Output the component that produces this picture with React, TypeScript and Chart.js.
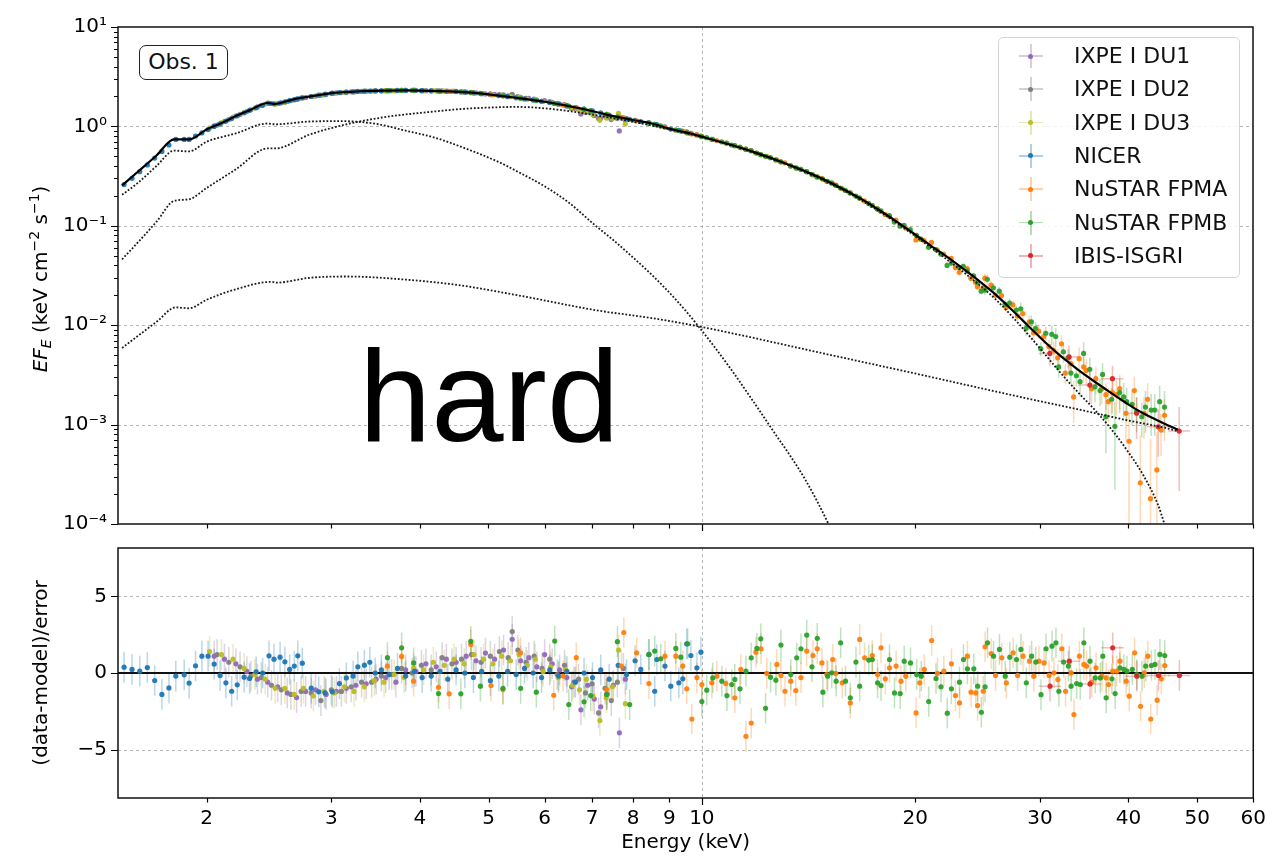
import React, { useEffect, useRef } from "react";
import { Chart, registerables } from "chart.js";

Chart.register(...registerables);

const FONT = '"DejaVu Sans", "Noto Sans", sans-serif';
Chart.defaults.font.family = FONT;

// ---------------- axes ----------------
const X_MIN = 1.5;
const X_MAX = 60;
const X_TICKS = [2, 3, 4, 5, 6, 7, 8, 9, 10, 20, 30, 40, 50, 60];
const X_TICK_LABELS = ["2", "3", "4", "5", "6", "7", "8", "9", "10", "20", "30", "40", "50", "60"];
const X_MAJOR = [10];
const X_GRID = [10];

const Y_MIN_TOP = 1e-4;
const Y_MAX_TOP = 10;
const Y_TICKS_TOP = [1e-4, 1e-3, 1e-2, 1e-1, 1, 10];
const Y_TICK_LABELS_TOP = ["10⁻⁴", "10⁻³", "10⁻²", "10⁻¹", "10⁰", "10¹"];
const Y_GRID_TOP = [1e-3, 1e-2, 1e-1, 1];

const Y_MIN_RES = -8.15;
const Y_MAX_RES = 8.15;
const Y_TICKS_RES = [-5, 0, 5];
const Y_TICK_LABELS_RES = ["−5", "0", "5"];
const Y_GRID_RES = [-5, 5];

// ---------------- model curves ----------------
const MODEL_E = [1.52, 1.6, 1.7, 1.8, 1.89, 2.0, 2.1, 2.2, 2.3, 2.44, 2.5, 2.6, 2.71, 2.85, 3.02, 3.2, 3.37, 3.6, 3.8, 4.0, 4.2, 4.4, 4.67, 5.0, 5.5, 6.0, 6.5, 7.0, 7.5, 8.0, 8.5, 9.0, 9.5, 10, 11, 12, 13, 14, 15, 16, 17, 18, 19, 20, 21, 22, 23, 24, 25, 26, 27, 28, 29, 30, 31, 32, 33, 34, 35, 36, 37, 38, 39, 40, 41, 42, 43, 44, 45, 46, 47];
const MODEL_TOTAL = [0.255, 0.35, 0.51, 0.74, 0.74, 0.93, 1.08, 1.27, 1.45, 1.72, 1.68, 1.8, 1.93, 2.04, 2.17, 2.23, 2.27, 2.29, 2.3, 2.29, 2.27, 2.25, 2.2, 2.1, 1.93, 1.77, 1.6, 1.43, 1.27, 1.16, 1.07, 0.95, 0.87, 0.79, 0.653, 0.535, 0.436, 0.353, 0.284, 0.225, 0.177, 0.137, 0.106, 0.082, 0.064, 0.051, 0.0405, 0.0322, 0.0256, 0.0203, 0.0158, 0.0123, 0.0096, 0.0076, 0.0061, 0.005, 0.0042, 0.00355, 0.00305, 0.00265, 0.00232, 0.00204, 0.0018, 0.0016, 0.00143, 0.0013, 0.00119, 0.0011, 0.00102, 0.00095, 0.00089];

const DISK_E = [1.52, 1.6, 1.7, 1.8, 1.89, 2.0, 2.2, 2.44, 2.5, 2.8, 3.1, 3.5, 3.76, 4.2, 4.67, 5.2, 5.5, 6.0, 6.5, 7.04, 7.5, 7.9, 8.47, 9.2, 9.9, 11, 12.5, 14, 15.1, 16];
const DISK = [0.205, 0.27, 0.4, 0.57, 0.56, 0.7, 0.85, 1.07, 1.05, 1.12, 1.13, 1.05, 0.93, 0.77, 0.59, 0.43, 0.35, 0.25, 0.17, 0.104, 0.072, 0.052, 0.033, 0.018, 0.0097, 0.0036, 0.00095, 0.00028, 0.0001, 0.00004];

const COMPTT_E = [1.52, 1.6, 1.7, 1.8, 1.89, 2.0, 2.2, 2.44, 2.5, 2.8, 3.19, 3.6, 4.18, 4.6, 5.2, 5.5, 6.0, 6.47, 7.2, 8.5, 10, 12, 14, 16, 18, 20, 22, 24, 26, 28, 30, 32, 34, 36, 38, 40, 42, 44, 45, 46];
const COMPTT = [0.046, 0.068, 0.11, 0.178, 0.185, 0.24, 0.37, 0.6, 0.6, 0.83, 1.07, 1.25, 1.41, 1.5, 1.56, 1.57, 1.52, 1.43, 1.27, 1.02, 0.78, 0.527, 0.347, 0.219, 0.133, 0.079, 0.048, 0.0297, 0.0182, 0.0104, 0.0059, 0.0034, 0.0021, 0.00137, 0.00087, 0.00053, 0.00031, 0.00016, 0.0001, 0.00006];

const POWERLAW_E = [1.52, 1.6, 1.7, 1.81, 1.89, 2.0, 2.2, 2.47, 2.51, 2.8, 3.16, 3.76, 4.52, 5.5, 7.11, 8.5, 10, 15, 20, 25, 30, 35, 40, 45, 47];
const POWERLAW = [0.0059, 0.0078, 0.0108, 0.0151, 0.0148, 0.018, 0.023, 0.0273, 0.0268, 0.03, 0.0309, 0.029, 0.0254, 0.02, 0.0141, 0.0118, 0.0096, 0.00512, 0.00327, 0.00229, 0.00172, 0.00136, 0.0011, 0.00093, 0.00086];

// ---------------- data: IXPE DU1 ----------------
const DU1_E = [2.05, 2.12, 2.2, 2.28, 2.36, 2.44, 2.52, 2.6, 2.68, 2.76, 2.85, 2.95, 3.05, 3.15, 3.25, 3.36, 3.47, 3.58, 3.7, 3.82, 3.95, 4.08, 4.22, 4.36, 4.5, 4.65, 4.8, 4.95, 5.1, 5.25, 5.4, 5.55, 5.7, 5.85, 6.0, 6.15, 6.3, 6.45, 6.6, 6.75, 6.9, 7.05, 7.2, 7.35, 7.5, 7.65, 7.8];
const DU1_F = [1.01, 1.12, 1.27, 1.41, 1.57, 1.72, 1.7, 1.78, 1.88, 1.95, 2.02, 2.09, 2.17, 2.21, 2.24, 2.26, 2.28, 2.29, 2.29, 2.3, 2.3, 2.29, 2.28, 2.26, 2.25, 2.21, 2.17, 2.12, 2.1, 2.08, 2.07, 1.96, 1.91, 1.84, 1.82, 1.75, 1.68, 1.6, 1.51, 1.33, 1.4, 1.29, 1.21, 1.22, 1.22, 0.9, 1.16];
const DU1_R = [1.1, 0.9, 0.6, 0.1, -0.4, -0.6, -0.9, -1.3, -1.6, -1.2, -1.1, -1.4, -1.2, -1.0, -0.8, -0.7, -0.4, -0.3, -0.6, 0.2, 0.1, 0.6, 0.4, 0.9, 0.7, 1.1, 0.8, 1.3, 0.9, 1.5, 2.2, 0.8, 1.0, 0.4, 1.2, 0.6, 0.2, -0.3, -0.6, -2.4, -0.8, -1.7, -2.2, -1.4, -0.8, -3.9, -0.4];

// ---------------- data: IXPE DU2 ----------------
const DU2_E = [2.07, 2.15, 2.23, 2.31, 2.39, 2.47, 2.55, 2.63, 2.72, 2.81, 2.9, 3.0, 3.1, 3.2, 3.31, 3.42, 3.53, 3.65, 3.77, 3.9, 4.02, 4.15, 4.3, 4.44, 4.58, 4.73, 4.88, 5.03, 5.18, 5.33, 5.4, 5.5, 5.65, 5.8, 5.95, 6.1, 6.25, 6.4, 6.55, 6.7, 6.85, 7.0, 7.15, 7.3, 7.45, 7.6, 7.75];
const DU2_F = [1.03, 1.17, 1.32, 1.47, 1.63, 1.7, 1.73, 1.82, 1.93, 2.0, 2.06, 2.15, 2.19, 2.23, 2.25, 2.27, 2.28, 2.29, 2.3, 2.3, 2.29, 2.28, 2.28, 2.25, 2.23, 2.2, 2.14, 2.12, 2.09, 2.03, 2.1, 2.0, 1.92, 1.88, 1.79, 1.78, 1.71, 1.66, 1.51, 1.49, 1.39, 1.38, 1.2, 1.27, 1.17, 1.2, 1.21];
const DU2_R = [1.2, 0.7, 0.4, -0.2, -0.3, -0.8, -1.1, -1.4, -1.2, -1.3, -1.8, -1.1, -1.2, -0.9, -0.6, -0.6, -0.2, -0.1, 0.3, 0.0, 0.5, 0.2, 1.0, 0.6, 0.9, 1.2, 0.7, 1.1, 1.4, 1.0, 2.7, 1.5, 0.7, 1.1, 0.3, 0.9, -0.1, 0.5, -0.9, -0.4, -1.3, -0.7, -2.6, -1.0, -1.8, -0.6, 0.3];

// ---------------- data: IXPE DU3 ----------------
const DU3_E = [2.02, 2.1, 2.18, 2.26, 2.34, 2.42, 2.5, 2.58, 2.66, 2.74, 2.83, 2.93, 3.03, 3.13, 3.23, 3.34, 3.45, 3.56, 3.68, 3.8, 3.92, 4.05, 4.18, 4.33, 4.47, 4.62, 4.77, 4.92, 5.07, 5.22, 5.37, 5.52, 5.67, 5.82, 5.97, 6.12, 6.27, 6.42, 6.57, 6.72, 6.87, 7.02, 7.18, 7.33, 7.48, 7.63, 7.8];
const DU3_F = [0.96, 1.09, 1.24, 1.38, 1.53, 1.68, 1.67, 1.74, 1.84, 1.94, 2.0, 2.08, 2.15, 2.2, 2.22, 2.25, 2.27, 2.28, 2.29, 2.3, 2.3, 2.29, 2.29, 2.26, 2.26, 2.22, 2.19, 2.14, 2.07, 2.06, 1.99, 1.97, 1.88, 1.86, 1.78, 1.74, 1.67, 1.63, 1.52, 1.44, 1.44, 1.32, 1.15, 1.22, 1.21, 1.35, 1.06];
const DU3_R = [1.4, 1.2, 0.9, 0.3, -0.1, -0.4, -1.0, -1.0, -1.4, -1.0, -1.5, -1.2, -1.3, -0.9, -1.2, -0.9, -0.5, -0.6, -0.1, -0.3, 0.3, 0.2, 0.7, 0.5, 0.9, 0.6, 1.2, 0.9, 0.6, 1.1, 0.8, 1.2, 0.5, 0.9, 0.1, 0.4, -0.3, 0.2, -0.8, -1.1, -0.4, -1.5, -3.1, -1.6, -0.9, 1.5, -2.0];

// ---------------- data: NICER ----------------
const NICER_E = [1.53, 1.57, 1.61, 1.65, 1.69, 1.73, 1.77, 1.81, 1.86, 1.89, 1.93, 1.97, 2.01, 2.05, 2.09, 2.13, 2.17, 2.21, 2.26, 2.3, 2.35, 2.4, 2.45, 2.49, 2.54, 2.58, 2.62, 2.66, 2.69, 2.73, 2.81, 2.88, 2.94, 3.01, 3.08, 3.15, 3.22, 3.27, 3.34, 3.4, 3.46, 3.53, 3.62, 3.72, 3.82, 3.93, 4.03, 4.15, 4.27, 4.38, 4.5, 4.63, 4.76, 4.89, 5.03, 5.17, 5.32, 5.47, 5.62, 5.78, 5.94, 6.1, 6.28, 6.45, 6.63, 6.82, 7.01, 7.2, 7.4, 7.62, 7.83, 8.05, 8.2, 8.42, 8.58, 8.64, 8.87, 9.04, 9.28, 9.4, 9.52, 9.65, 9.84, 9.97];
const NICER_F = [0.26, 0.3, 0.35, 0.41, 0.48, 0.56, 0.65, 0.74, 0.74, 0.74, 0.8, 0.86, 0.93, 1.0, 1.06, 1.13, 1.2, 1.28, 1.37, 1.45, 1.54, 1.63, 1.71, 1.69, 1.72, 1.77, 1.82, 1.86, 1.89, 1.94, 2.0, 2.06, 2.11, 2.16, 2.19, 2.21, 2.23, 2.25, 2.26, 2.27, 2.28, 2.28, 2.29, 2.3, 2.3, 2.3, 2.29, 2.28, 2.26, 2.25, 2.24, 2.21, 2.17, 2.13, 2.09, 2.04, 1.99, 1.94, 1.89, 1.84, 1.79, 1.74, 1.68, 1.62, 1.55, 1.49, 1.43, 1.37, 1.3, 1.24, 1.2, 1.15, 1.12, 1.09, 1.05, 1.04, 0.99, 0.94, 0.91, 0.89, 0.88, 0.85, 0.82, 0.8];
const NICER_R = [0.38, 0.23, 0.12, 0.36, -0.49, -1.4, -0.97, -0.2, -0.12, -0.66, 0.47, 1.1, 1.1, 0.58, -0.16, -0.64, -1.19, -0.77, -0.27, -0.36, 0.08, 0, 1.12, 0.9, 1.03, 0.73, 0.23, 0.45, 1.12, 0.64, -0.99, -1.23, -1.3, -1.23, -0.69, -0.32, -0.2, 0.4, 0.51, 0.7, 0, 0.2, -0.1, 0.3, -0.2, 0.1, -0.3, -0.2, 0.1, -0.4, 0.2, 0, -0.3, 0.1, -0.5, -0.2, 0.1, -0.1, 0.3, 0, -0.3, 0.2, -0.2, 0.1, -0.6, 0, -0.3, 0.2, -0.4, 0.5, -0.1, 0.8, 0.23, 1.2, -1.19, 0.88, 0.45, -0.86, -0.64, -0.38, 1.9, 1.14, 0.34, 1.36];

// ---------------- data: NuSTAR FPMA ----------------
const FPMA_E = [3.6, 3.77, 3.92, 4.25, 4.4, 4.72, 5.04, 5.24, 5.55, 6.18, 6.37, 6.65, 7.34, 7.7, 7.76, 8.09, 8.42, 8.87, 9.19, 9.4, 9.52, 9.68, 9.84, 10.0, 10.33, 10.5, 10.81, 11.13, 11.35, 11.54, 11.74, 11.92, 12.12, 12.35, 12.76, 12.93, 13.1, 13.35, 13.57, 13.8, 14.06, 14.35, 14.55, 14.77, 15.01, 15.3, 15.45, 15.78, 16.2, 16.7, 16.97, 17.4, 17.7, 17.9, 18.15, 18.4, 18.8, 19.1, 19.4, 20.06, 20.3, 20.6, 21.1, 21.5, 21.95, 22.5, 22.8, 23.1, 23.7, 23.98, 24.35, 24.5, 24.95, 25.1, 25.6, 25.97, 26.5, 26.9, 27.5, 27.9, 28.4, 29.0, 29.4, 29.9, 30.4, 30.9, 31.4, 31.8, 32.2, 32.6, 33.2, 33.5, 34.1, 34.6, 34.9, 35.5, 36.0, 36.7, 37.2, 37.5, 38.0, 38.5, 38.9, 39.7, 40.1, 40.8, 41.6, 42.1, 42.6, 43.0, 43.9, 44.5, 45.0];
const FPMA_F = [2.29, 2.3, 2.3, 2.27, 2.25, 2.19, 2.09, 2.03, 1.92, 1.71, 1.64, 1.55, 1.32, 1.23, 1.22, 1.14, 1.08, 0.98, 0.92, 0.89, 0.87, 0.84, 0.82, 0.79, 0.74, 0.72, 0.68, 0.64, 0.61, 0.59, 0.57, 0.54, 0.52, 0.5, 0.46, 0.44, 0.43, 0.4, 0.385, 0.37, 0.35, 0.325, 0.31, 0.3, 0.28, 0.266, 0.257, 0.237, 0.214, 0.19, 0.178, 0.16, 0.148, 0.14, 0.13, 0.125, 0.114, 0.101, 0.095, 0.072, 0.074, 0.071, 0.068, 0.057, 0.052, 0.047, 0.038, 0.034, 0.037, 0.0296, 0.027, 0.0244, 0.0237, 0.0297, 0.0253, 0.02, 0.0199, 0.0151, 0.016, 0.0124, 0.0131, 0.0108, 0.0084, 0.0087, 0.0077, 0.0061, 0.0056, 0.0047, 0.0065, 0.0033, 0.0041, 0.0019, 0.0046, 0.0038, 0.0035, 0.0023, 0.0029, 0.0023, 0.002, 0.0017, 0.0021, 0.002, 0.0023, 0.0013, 0.00068, 0.0022, 0.00026, 0.0013, 0.0018, 0.00018, 0.00035, 0.00088, 0.00124];
const FPMA_S = [0.01, 0.01, 0.01, 0.01, 0.01, 0.01, 0.01, 0.01, 0.01, 0.01, 0.01, 0.01, 0.01, 0.01, 0.01, 0.01, 0.01, 0.01, 0.01, 0.01, 0.01, 0.01, 0.01, 0.015, 0.015, 0.015, 0.015, 0.015, 0.015, 0.015, 0.015, 0.015, 0.015, 0.015, 0.015, 0.015, 0.015, 0.015, 0.015, 0.015, 0.025, 0.025, 0.025, 0.025, 0.025, 0.025, 0.025, 0.025, 0.025, 0.025, 0.025, 0.025, 0.025, 0.025, 0.04, 0.04, 0.04, 0.04, 0.04, 0.04, 0.04, 0.04, 0.04, 0.04, 0.04, 0.07, 0.07, 0.07, 0.07, 0.07, 0.07, 0.07, 0.07, 0.11, 0.11, 0.11, 0.11, 0.11, 0.11, 0.11, 0.16, 0.16, 0.16, 0.16, 0.16, 0.16, 0.22, 0.22, 0.22, 0.22, 0.22, 0.45, 0.3, 0.3, 0.3, 0.3, 0.3, 0.3, 0.3, 0.38, 0.38, 0.38, 0.38, 0.48, 0.88, 0.38, 2.0, 0.45, 0.45, 3.0, 1.4, 0.45, 0.45];
const FPMA_R = [0.45, 1.08, -0.53, -0.93, -1.36, 1.86, -0.82, -1.08, 1.32, -1.45, -0.2, 1.0, -1.08, 0.45, 2.64, 1.32, -0.69, 1.1, 1.1, 0.45, -1.03, -3.0, -0.3, -0.75, -0.64, -0.21, -0.69, -1.62, 0.23, -4.13, -3.26, 1.36, 1.58, -0.03, 0.56, -0.16, -1.19, -0.53, -1.14, -0.3, 1.43, 1.14, 1.58, 0.66, -0.1, 0.88, -0.03, -0.64, -1.95, 2.19, 0.99, 1.14, -0.1, 1.64, -0.38, 0.34, 0.45, -0.53, -0.21, -2.6, -0.64, 0.23, 2.12, -0.03, 0.12, 0.6, -1.47, -1.95, 1.1, -1.25, -1.3, -2.12, -1.19, 1.71, 1.27, -0.16, 0.99, -0.64, 1.32, -0.16, 1.1, 0.77, -0.21, 0.77, 0.66, -0.16, 0.01, -0.43, 1.58, -1.19, 0.01, -2.71, 1.1, 0.56, 0.45, -0.6, 0.34, -0.21, -0.32, -0.75, 0.12, 0.12, 0.77, -0.53, -1.51, 1.32, -2.17, 0.01, 1.1, -3.0, -1.77, -0.38, 0.49];

// ---------------- data: NuSTAR FPMB ----------------
const FPMB_E = [3.6, 3.77, 3.92, 4.25, 4.57, 4.72, 4.87, 5.24, 5.55, 5.84, 6.2, 6.49, 6.82, 6.97, 7.34, 7.6, 7.91, 8.42, 8.58, 8.75, 9.19, 9.34, 9.55, 10.0, 10.16, 10.36, 10.67, 10.85, 11.02, 11.13, 11.32, 11.54, 11.74, 11.96, 12.11, 12.3, 12.5, 12.72, 12.93, 13.35, 13.61, 13.8, 14.06, 14.3, 14.55, 14.82, 15.05, 15.25, 15.47, 15.7, 15.95, 16.2, 16.5, 16.7, 17.2, 17.4, 17.7, 17.9, 18.4, 18.7, 19.05, 19.3, 19.7, 20.1, 20.4, 20.9, 21.4, 21.75, 22.2, 22.5, 23.1, 23.4, 23.7, 24.2, 24.5, 24.8, 25.1, 25.3, 25.8, 26.3, 26.8, 27.2, 27.8, 28.2, 28.7, 29.2, 29.6, 30.1, 30.6, 31.2, 31.6, 31.9, 32.4, 32.9, 33.2, 33.8, 34.2, 34.6, 35.3, 35.9, 36.5, 36.8, 37.2, 37.9, 38.3, 38.9, 39.4, 39.8, 40.5, 41.1, 41.8, 42.3, 43.1, 43.6, 44.3, 45.0];
const FPMB_F = [2.29, 2.3, 2.3, 2.27, 2.22, 2.19, 2.15, 2.03, 1.92, 1.82, 1.7, 1.6, 1.49, 1.44, 1.32, 1.24, 1.18, 1.08, 1.05, 1.01, 0.92, 0.9, 0.86, 0.79, 0.77, 0.74, 0.7, 0.68, 0.65, 0.64, 0.62, 0.59, 0.57, 0.54, 0.52, 0.5, 0.485, 0.46, 0.44, 0.4, 0.38, 0.37, 0.35, 0.33, 0.31, 0.295, 0.28, 0.27, 0.255, 0.24, 0.227, 0.214, 0.199, 0.19, 0.168, 0.16, 0.148, 0.141, 0.127, 0.109, 0.099, 0.101, 0.0915, 0.08, 0.0736, 0.0607, 0.0577, 0.052, 0.0399, 0.0422, 0.038, 0.0392, 0.0352, 0.0314, 0.027, 0.022, 0.0225, 0.029, 0.0238, 0.022, 0.0162, 0.0167, 0.0142, 0.0146, 0.0093, 0.0108, 0.0093, 0.0058, 0.0083, 0.0081, 0.0077, 0.0038, 0.0054, 0.0047, 0.0033, 0.0031, 0.0027, 0.0052, 0.0036, 0.0024, 0.0022, 0.0032, 0.0012, 0.0018, 0.00096, 0.0021, 0.0019, 0.0017, 0.0016, 0.00136, 0.0012, 0.0015, 0.0014, 0.0014, 0.0017, 0.0015];
const FPMB_S = [0.01, 0.01, 0.01, 0.01, 0.01, 0.01, 0.01, 0.01, 0.01, 0.01, 0.01, 0.01, 0.01, 0.01, 0.01, 0.01, 0.01, 0.01, 0.01, 0.01, 0.01, 0.01, 0.01, 0.015, 0.015, 0.015, 0.015, 0.015, 0.015, 0.015, 0.015, 0.015, 0.015, 0.015, 0.015, 0.015, 0.015, 0.015, 0.015, 0.015, 0.015, 0.015, 0.025, 0.025, 0.025, 0.025, 0.025, 0.025, 0.025, 0.025, 0.025, 0.025, 0.025, 0.025, 0.025, 0.025, 0.025, 0.025, 0.04, 0.04, 0.04, 0.04, 0.04, 0.04, 0.04, 0.04, 0.04, 0.04, 0.07, 0.07, 0.07, 0.07, 0.07, 0.07, 0.07, 0.07, 0.11, 0.11, 0.11, 0.11, 0.11, 0.11, 0.11, 0.16, 0.16, 0.16, 0.16, 0.16, 0.16, 0.22, 0.22, 0.22, 0.22, 0.22, 0.22, 0.22, 0.3, 0.3, 0.3, 0.3, 0.3, 0.3, 0.57, 0.3, 0.77, 0.38, 0.38, 0.38, 0.38, 0.38, 0.38, 0.45, 0.45, 0.45, 0.45, 0.45];
const FPMB_R = [1.0, 1.64, 0.66, -1.34, -1.36, 2.06, -0.86, -1.0, -1.0, -1.25, 2.08, -2.06, -1.88, -1.47, -1.4, 2.04, -2.06, 1.21, 1.43, 0.93, 1.6, 1.03, 1.9, -1.86, -1.12, -0.32, -0.53, -1.47, -0.75, -0.42, -1.03, 0.12, 0.99, 1.6, 2.23, -2.3, -0.27, -0.47, 1.82, -0.1, 0.99, 1.58, 2.47, 0.4, 2.26, -1.25, -0.21, 0.01, -0.53, 1.97, -0.53, -1.62, 0.71, -0.86, 0.84, 0.88, -0.64, -0.82, 0.88, -1.3, -1.34, 0.77, 0.66, -0.1, -0.21, -1.86, -0.36, -0.9, -2.62, -1.03, -0.6, 0.88, 0.27, 0.27, -0.86, -2.56, -0.9, 1.97, 1.1, 1.54, -0.21, 1.03, 0.88, 1.54, -0.64, 1.1, 0.71, -1.41, 1.58, 1.75, 1.97, -1.19, 0.71, 0.45, -0.86, -0.69, -0.75, 1.97, 0.77, -0.32, -0.32, 1.1, -1.62, -0.38, -1.34, 0.34, 0.23, 0.12, 0.23, -0.1, -0.21, 0.45, 0.49, 0.56, 1.21, 1.14];

// ---------------- data: IBIS-ISGRI ----------------
const ISGRI_E = [31.0, 33.0, 35.3, 38.0, 41.1, 44.1, 47.2];
const ISGRI_DE = [1.1, 1.2, 1.3, 1.4, 1.5, 1.6, 1.7];
const ISGRI_F = [0.0052, 0.0048, 0.0025, 0.0029, 0.0013, 0.00095, 0.00086];
const ISGRI_S = [0.25, 0.3, 0.35, 0.35, 0.45, 0.5, 0.75];
const ISGRI_R = [-0.86, 0.77, -0.71, 1.64, -0.21, -0.16, -0.16];

// ---------------- instrument table ----------------
type Inst = { name: string; color: string; E: number[]; F: number[]; R: number[]; S?: number[]; DE?: number[] };

const INSTRUMENTS: Inst[] = [
  { name: "IXPE I DU1", color: "#9467bd", E: DU1_E, F: DU1_F, R: DU1_R },
  { name: "IXPE I DU2", color: "#7f7f7f", E: DU2_E, F: DU2_F, R: DU2_R },
  { name: "IXPE I DU3", color: "#bcbd22", E: DU3_E, F: DU3_F, R: DU3_R },
  { name: "NICER", color: "#1f77b4", E: NICER_E, F: NICER_F, R: NICER_R },
  { name: "NuSTAR FPMA", color: "#ff7f0e", E: FPMA_E, F: FPMA_F, R: FPMA_R, S: FPMA_S },
  { name: "NuSTAR FPMB", color: "#2ca02c", E: FPMB_E, F: FPMB_F, R: FPMB_R, S: FPMB_S },
  { name: "IBIS-ISGRI", color: "#d62728", E: ISGRI_E, F: ISGRI_F, R: ISGRI_R, S: ISGRI_S, DE: ISGRI_DE },
];

function rgba(hex: string, a: number) {
  const n = parseInt(hex.slice(1), 16);
  return `rgba(${(n >> 16) & 255},${(n >> 8) & 255},${n & 255},${a})`;
}

const pts = (E: number[], V: number[]) => E.map((e, i) => ({ x: e, y: V[i] }));

// ---------------- drawing helpers ----------------
type Piece = { text: string; size: number; italic?: boolean; dy: number };
type Bar = { x: number; y: number; xLo?: number; xHi?: number; yLo?: number; yHi?: number };
type BarSet = { color: string; bars: Bar[] };
type DecoCfg = {
  logY: boolean;
  gridX: number[];
  gridY: number[];
  yMajor: number[];
  yMinor: number[];
  zeroLine: boolean;
  barSets: BarSet[];
  title: Piece[];
  titleX: number;
  titleY: number;
};

function drawRich(ctx: CanvasRenderingContext2D, pieces: Piece[], cx: number, cy: number) {
  let total = 0;
  const widths = pieces.map((p) => {
    ctx.font = `${p.italic ? "italic " : ""}${p.size}px ${FONT}`;
    const w = ctx.measureText(p.text).width;
    total += w;
    return w;
  });
  ctx.save();
  ctx.translate(cx, cy);
  ctx.rotate(-Math.PI / 2);
  ctx.fillStyle = "#000";
  ctx.textBaseline = "alphabetic";
  ctx.textAlign = "left";
  let x = -total / 2;
  pieces.forEach((p, i) => {
    ctx.font = `${p.italic ? "italic " : ""}${p.size}px ${FONT}`;
    ctx.fillText(p.text, x, p.dy);
    x += widths[i];
  });
  ctx.restore();
}

function makeDeco(cfg: DecoCfg) {
  return {
    id: "deco",
    beforeDatasetsDraw(chart: any) {
      const { ctx, chartArea: a, scales } = chart;
      const sx = scales.x;
      const sy = scales.y;
      const px = (v: number) => sx.getPixelForValue(v);
      const py = (v: number) => (!cfg.logY || v > 0 ? sy.getPixelForValue(v) : a.bottom + 20);
      ctx.save();
      ctx.beginPath();
      ctx.rect(a.left, a.top, a.right - a.left, a.bottom - a.top);
      ctx.clip();
      ctx.strokeStyle = "rgba(165,165,165,0.8)";
      ctx.lineWidth = 1;
      ctx.setLineDash([3, 3]);
      ctx.beginPath();
      cfg.gridX.forEach((v) => {
        const x = Math.round(px(v)) + 0.5;
        ctx.moveTo(x, a.top);
        ctx.lineTo(x, a.bottom);
      });
      cfg.gridY.forEach((v) => {
        const y = Math.round(py(v)) + 0.5;
        ctx.moveTo(a.left, y);
        ctx.lineTo(a.right, y);
      });
      ctx.stroke();
      ctx.setLineDash([]);
      ctx.lineWidth = 1.5;
      cfg.barSets.forEach((set) => {
        ctx.strokeStyle = set.color;
        set.bars.forEach((b) => {
          const x = px(b.x);
          const y = py(b.y);
          ctx.beginPath();
          if (b.yLo !== undefined && b.yHi !== undefined) {
            ctx.moveTo(x, py(b.yLo));
            ctx.lineTo(x, py(b.yHi));
          }
          if (b.xLo !== undefined && b.xHi !== undefined) {
            ctx.moveTo(px(b.xLo), y);
            ctx.lineTo(px(b.xHi), y);
          }
          ctx.stroke();
        });
      });
      if (cfg.zeroLine) {
        const y0 = py(0);
        ctx.strokeStyle = "#111";
        ctx.lineWidth = 2;
        ctx.beginPath();
        ctx.moveTo(a.left, y0);
        ctx.lineTo(a.right, y0);
        ctx.stroke();
      }
      ctx.restore();
    },
    afterDatasetsDraw(chart: any) {
      const { ctx, chartArea: a, scales } = chart;
      const sx = scales.x;
      const sy = scales.y;
      ctx.save();
      ctx.strokeStyle = "#000";
      ctx.lineWidth = 1.2;
      ctx.beginPath();
      X_TICKS.forEach((v) => {
        const x = Math.round(sx.getPixelForValue(v)) + 0.5;
        const len = X_MAJOR.includes(v) ? 7 : 4.5;
        ctx.moveTo(x, a.bottom);
        ctx.lineTo(x, a.bottom + len);
      });
      cfg.yMajor.forEach((v) => {
        const y = Math.round(sy.getPixelForValue(v)) + 0.5;
        ctx.moveTo(a.left, y);
        ctx.lineTo(a.left - 7, y);
      });
      cfg.yMinor.forEach((v) => {
        const y = Math.round(sy.getPixelForValue(v)) + 0.5;
        ctx.moveTo(a.left, y);
        ctx.lineTo(a.left - 4, y);
      });
      ctx.stroke();
      ctx.lineWidth = 1.5;
      ctx.strokeStyle = "#111";
      ctx.strokeRect(a.left, a.top, a.right - a.left, a.bottom - a.top);
      ctx.restore();
      drawRich(ctx, cfg.title, cfg.titleX, cfg.titleY);
    },
  };
}

const Y_MINOR_TOP: number[] = [];
[1e-4, 1e-3, 1e-2, 1e-1, 1].forEach((d) => {
  for (let k = 2; k <= 9; k++) Y_MINOR_TOP.push(d * k);
});

const TICK_FONT = { family: FONT, size: 20 };

function dataDatasets(useRes: boolean) {
  return INSTRUMENTS.map((ins, k) => ({
    label: ins.name,
    data: pts(ins.E, useRes ? ins.R : ins.F),
    showLine: false,
    pointRadius: 2.6,
    pointBorderWidth: 0,
    pointBackgroundColor: rgba(ins.color, 0.95),
    backgroundColor: rgba(ins.color, 0.95),
    borderColor: ins.color,
    order: 7 - k,
    clip: 0,
  }));
}

function topConfig(): any {
  const barSets: BarSet[] = INSTRUMENTS.filter((ins) => ins.S).map((ins) => ({
    color: rgba(ins.color, 0.3),
    bars: ins.E.map((e, i) => {
      const f = ins.F[i];
      const s = (ins.S as number[])[i];
      const b: Bar = { x: e, y: f, yLo: f * (1 - s), yHi: f * (1 + s) };
      if (ins.DE) {
        b.xLo = e - ins.DE[i];
        b.xHi = e + ins.DE[i];
      }
      return b;
    }),
  }));
  const modelLine = (E: number[], V: number[], dotted: boolean) => ({
    label: "model",
    data: pts(E, V),
    borderColor: dotted ? "#1a1a1a" : "#000",
    borderWidth: dotted ? 1.8 : 2.2,
    borderDash: dotted ? [1.8, 1.8] : [],
    pointRadius: 0,
    fill: false,
    cubicInterpolationMode: "monotone",
    order: 0,
    clip: 0,
  });
  return {
    type: "line",
    data: {
      datasets: [
        modelLine(MODEL_E, MODEL_TOTAL, false),
        modelLine(DISK_E, DISK, true),
        modelLine(COMPTT_E, COMPTT, true),
        modelLine(POWERLAW_E, POWERLAW, true),
        ...dataDatasets(false),
      ],
    },
    options: {
      animation: false,
      responsive: false,
      maintainAspectRatio: false,
      events: [],
      layout: { padding: { left: 0, right: 13, top: 27, bottom: 0 } },
      plugins: { legend: { display: false }, tooltip: { enabled: false }, title: { display: false } },
      scales: {
        x: {
          type: "logarithmic",
          min: X_MIN,
          max: X_MAX,
          grid: { display: false, drawTicks: false },
          border: { display: false },
          ticks: { display: false },
          afterBuildTicks: (s: any) => {
            s.ticks = X_TICKS.map((v) => ({ value: v }));
          },
          afterFit: (s: any) => {
            s.height = 16;
          },
        },
        y: {
          type: "logarithmic",
          min: Y_MIN_TOP,
          max: Y_MAX_TOP,
          grid: { display: false, drawTicks: false },
          border: { display: false },
          ticks: {
            color: "#000",
            font: TICK_FONT,
            padding: 11,
            autoSkip: false,
            callback: (_v: any, i: number) => Y_TICK_LABELS_TOP[i],
          },
          afterBuildTicks: (s: any) => {
            s.ticks = Y_TICKS_TOP.map((v) => ({ value: v }));
          },
          afterFit: (s: any) => {
            s.width = 118;
          },
        },
      },
    },
    plugins: [
      makeDeco({
        logY: true,
        gridX: X_GRID,
        gridY: Y_GRID_TOP,
        yMajor: Y_TICKS_TOP,
        yMinor: Y_MINOR_TOP,
        zeroLine: false,
        barSets,
        title: [
          { text: "EF", size: 20, italic: true, dy: 7 },
          { text: "E", size: 14, italic: true, dy: 11 },
          { text: " (keV cm", size: 20, dy: 7 },
          { text: "−2", size: 14, dy: -1 },
          { text: " s", size: 20, dy: 7 },
          { text: "−1", size: 14, dy: -1 },
          { text: ")", size: 20, dy: 7 },
        ],
        titleX: 40,
        titleY: 279,
      }),
    ],
  };
}

function resConfig(): any {
  const barSets: BarSet[] = INSTRUMENTS.map((ins) => ({
    color: rgba(ins.color, 0.3),
    bars: ins.E.map((e, i) => {
      const r = ins.R[i];
      const b: Bar = { x: e, y: r, yLo: r - 1, yHi: r + 1 };
      if (ins.DE) {
        b.xLo = e - ins.DE[i];
        b.xHi = e + ins.DE[i];
      }
      return b;
    }),
  }));
  return {
    type: "line",
    data: { datasets: dataDatasets(true) },
    options: {
      animation: false,
      responsive: false,
      maintainAspectRatio: false,
      events: [],
      layout: { padding: { left: 0, right: 13, top: 23, bottom: 0 } },
      plugins: { legend: { display: false }, tooltip: { enabled: false }, title: { display: false } },
      scales: {
        x: {
          type: "logarithmic",
          min: X_MIN,
          max: X_MAX,
          grid: { display: false, drawTicks: false },
          border: { display: false },
          ticks: {
            color: "#000",
            font: TICK_FONT,
            padding: 9,
            autoSkip: false,
            maxRotation: 0,
            minRotation: 0,
            callback: (_v: any, i: number) => X_TICK_LABELS[i],
          },
          title: {
            display: true,
            text: "Energy (keV)",
            color: "#000",
            font: { family: FONT, size: 20 },
            padding: { top: 0, bottom: 4 },
          },
          afterBuildTicks: (s: any) => {
            s.ticks = X_TICKS.map((v) => ({ value: v }));
          },
          afterFit: (s: any) => {
            s.height = 61;
          },
        },
        y: {
          type: "linear",
          min: Y_MIN_RES,
          max: Y_MAX_RES,
          grid: { display: false, drawTicks: false },
          border: { display: false },
          ticks: {
            color: "#000",
            font: TICK_FONT,
            padding: 11,
            autoSkip: false,
            callback: (_v: any, i: number) => Y_TICK_LABELS_RES[i],
          },
          afterBuildTicks: (s: any) => {
            s.ticks = Y_TICKS_RES.map((v) => ({ value: v }));
          },
          afterFit: (s: any) => {
            s.width = 118;
          },
        },
      },
    },
    plugins: [
      makeDeco({
        logY: false,
        gridX: X_GRID,
        gridY: Y_GRID_RES,
        yMajor: Y_TICKS_RES,
        yMinor: [],
        zeroLine: true,
        barSets,
        title: [{ text: "(data-model)/error", size: 20, dy: 7 }],
        titleX: 40,
        titleY: 148,
      }),
    ],
  };
}

function LegendBox() {
  return (
    <div
      style={{
        position: "absolute",
        left: 998,
        top: 37,
        width: 242,
        height: 241,
        boxSizing: "border-box",
        border: "1px solid #d4d4d4",
        borderRadius: 5,
        background: "rgba(255,255,255,0.85)",
      }}
    >
      {INSTRUMENTS.map((ins, i) => (
        <div key={ins.name} style={{ position: "absolute", left: 0, top: 2 + i * 33.3, width: "100%", height: 32 }}>
          <div style={{ position: "absolute", left: 19.7, top: 15.2, width: 24, height: 1.6, background: rgba(ins.color, 0.35) }} />
          <div style={{ position: "absolute", left: 31, top: 4, width: 1.6, height: 24, background: rgba(ins.color, 0.35) }} />
          <div
            style={{
              position: "absolute",
              left: 29.3,
              top: 13.5,
              width: 5,
              height: 5,
              borderRadius: "50%",
              background: ins.color,
            }}
          />
          <div
            style={{
              position: "absolute",
              left: 75,
              top: 0,
              height: 32,
              lineHeight: "32px",
              fontSize: 22,
              fontFamily: FONT,
              color: "#111",
              whiteSpace: "nowrap",
            }}
          >
            {ins.name}
          </div>
        </div>
      ))}
    </div>
  );
}

export default function App() {
  const topRef = useRef<HTMLCanvasElement>(null);
  const resRef = useRef<HTMLCanvasElement>(null);

  useEffect(() => {
    const top = new Chart(topRef.current as HTMLCanvasElement, topConfig());
    const res = new Chart(resRef.current as HTMLCanvasElement, resConfig());
    return () => {
      top.destroy();
      res.destroy();
    };
  }, []);

  return (
    <div
      style={{
        position: "absolute",
        left: 0,
        top: 0,
        width: 1266,
        height: 859,
        background: "#fff",
        overflow: "hidden",
        fontFamily: FONT,
      }}
    >
      <canvas ref={topRef} width={1266} height={547} style={{ position: "absolute", left: 0, top: 0 }} />
      <canvas ref={resRef} width={1275} height={334} style={{ position: "absolute", left: 0, top: 525 }} />
      <div
        style={{
          position: "absolute",
          left: 139,
          top: 45,
          width: 89,
          height: 35,
          boxSizing: "border-box",
          border: "1.4px solid #222",
          borderRadius: 7,
          background: "#fff",
          fontSize: 22,
          lineHeight: "32px",
          textAlign: "center",
          color: "#111",
          fontFamily: FONT,
        }}
      >
        Obs. 1
      </div>
      <LegendBox />
      <div
        style={{
          position: "absolute",
          left: 359,
          top: 331,
          fontSize: 130,
          lineHeight: 1,
          fontFamily: '"Liberation Sans", Arial, sans-serif',
          color: "#000",
          whiteSpace: "nowrap",
        }}
      >
        hard
      </div>
    </div>
  );
}
